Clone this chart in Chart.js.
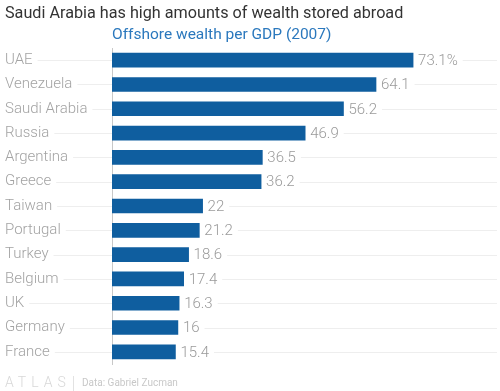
<!DOCTYPE html>
<html><head><meta charset="utf-8">
<script src="https://cdn.jsdelivr.net/npm/chart.js@4/dist/chart.umd.min.js"></script>
<style>
html,body{margin:0;padding:0;background:#fff;width:500px;height:391px;overflow:hidden;font-family:Roboto,sans-serif;}
#wrap{position:absolute;left:0;top:0;width:500px;height:391px;}
.t{position:absolute;white-space:nowrap;}
#title{left:5px;top:3px;font-size:16.2px;color:#333;font-weight:400;}
#sub{left:112px;top:25px;font-size:15.5px;color:#2b78bd;font-weight:400;}
#logo{left:5px;top:374px;font-size:14px;color:#d8d8d8;letter-spacing:5px;font-weight:300;}
#sep{position:absolute;left:73px;top:376px;width:1px;height:15px;background:#e2e2e2;}
#src{left:82px;top:377px;font-size:10px;color:#c8c8c8;}
</style></head>
<body>
<div id="wrap"><canvas id="c" width="500" height="391"></canvas></div>
<div class="t" id="title">Saudi Arabia has high amounts of wealth stored abroad</div>
<div class="t" id="sub">Offshore wealth per GDP (2007)</div>
<div class="t" id="logo">ATLAS</div>
<div id="sep"></div>
<div class="t" id="src">Data: Gabriel Zucman</div>
<script>
const categories = ["UAE","Venezuela","Saudi Arabia","Russia","Argentina","Greece","Taiwan","Portugal","Turkey","Belgium","UK","Germany","France"];
const values = [73.1,64.1,56.2,46.9,36.5,36.2,22,21.2,18.6,17.4,16.3,16,15.4];
const valueLabels = ["73.1%","64.1","56.2","46.9","36.5","36.2","22","21.2","18.6","17.4","16.3","16","15.4"];

const labelFont = '300 15px Roboto';
const gridPlugin = {
  id:'rowGrid',
  beforeDatasetsDraw(chart){
    const ctx = chart.ctx, y = chart.scales.y, meta = chart.getDatasetMeta(0);
    ctx.save();
    ctx.font = labelFont;
    ctx.strokeStyle = '#eeeeee';
    ctx.lineWidth = 1;
    categories.forEach((c,i)=>{
      const py = Math.round(y.getPixelForValue(i)) + 0.5;
      const lw = ctx.measureText(c).width;
      const x1 = 5 + lw + 5, x2 = chart.chartArea.left;
      if (x2 > x1){ ctx.beginPath(); ctx.moveTo(x1,py); ctx.lineTo(x2,py); ctx.stroke(); }
      const bar = meta.data[i];
      const vx = bar.x + 5 + ctx.measureText(valueLabels[i]).width + 5;
      ctx.beginPath(); ctx.moveTo(vx,py); ctx.lineTo(497,py); ctx.stroke();
    });
    ctx.restore();
  },
  afterDatasetsDraw(chart){
    const ctx = chart.ctx, meta = chart.getDatasetMeta(0);
    ctx.save();
    ctx.font = labelFont;
    ctx.fillStyle = '#9a9a9a';
    ctx.textBaseline = 'middle';
    ctx.textAlign = 'left';
    meta.data.forEach((bar,i)=>{
      ctx.fillText(valueLabels[i], bar.x + 5, bar.y + 1);
    });
    ctx.restore();
  }
};

new Chart(document.getElementById('c'), {
  type:'bar',
  data:{labels:categories, datasets:[{data:values, backgroundColor:'#0f5e9f', borderWidth:0, barThickness:14}]},
  options:{
    indexAxis:'y',
    responsive:false,
    animation:false,
    layout:{padding:{left:5,top:48,right:0,bottom:27}},
    plugins:{legend:{display:false},tooltip:{enabled:false}},
    scales:{
      x:{display:false,min:0,max:94.2},
      y:{
        afterFit(s){ s.width = 107; },
        grid:{display:false,drawTicks:false},
        border:{display:true,color:'#c8c8c8',width:1},
        ticks:{crossAlign:'far',padding:0,color:'#a3a3a3',font:{family:'Roboto',size:15,weight:'300'}}
      }
    }
  },
  plugins:[gridPlugin]
});
</script>
</body></html>
